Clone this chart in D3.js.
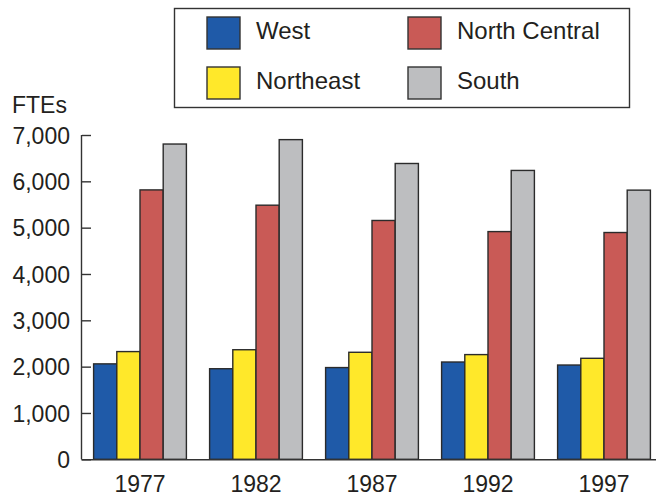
<!DOCTYPE html>
<html><head><meta charset="utf-8">
<script src="https://cdn.jsdelivr.net/npm/d3@7"></script>
<style>body{margin:0;background:#fff}svg{display:block}text{font-family:"Liberation Sans",Arial,Helvetica,sans-serif;fill:#231f20}</style>
</head><body>
<svg id="c" width="657" height="498"></svg>
<script>
const years = ["1977","1982","1987","1992","1997"];
const seriesNames = ["West","Northeast","North Central","South"];
const west = [2060,1955,1980,2100,2035];
const northeast = [2325,2365,2310,2260,2180];
const northCentral = [5815,5485,5155,4915,4895];
const south = [6805,6900,6385,6235,5810];
const yTicks = [0,1000,2000,3000,4000,5000,6000,7000];
const colors = ["#1f5aa8","#ffe82a","#c95a56","#bdbec0"];
const values = [west, northeast, northCentral, south];

const svg = d3.select("#c");
const x0 = d3.scaleBand().domain(years).range([82,662]).paddingInner(0.2).paddingOuter(0.1);
const x1 = d3.scaleBand().domain(seriesNames).range([0,x0.bandwidth()]);
const y = d3.scaleLinear().domain([0,7000]).range([459.3,135]);

// bars
years.forEach((yr,i)=>{
  const g = svg.append("g").attr("transform",`translate(${x0(yr)},0)`);
  seriesNames.forEach((s,j)=>{
    g.append("rect").attr("x",x1(s)).attr("y",y(values[j][i])).attr("width",x1.bandwidth()).attr("height",y(0)-y(values[j][i]))
      .attr("fill",colors[j]).attr("stroke","#2b2b2b").attr("stroke-width",1.4);
  });
});

// y axis
const yAxis = d3.axisLeft(y).tickValues(yTicks).tickSize(-9).tickPadding(12).tickFormat(d3.format(","));
const ya = svg.append("g").attr("transform","translate(82,0)").call(yAxis);
ya.select(".domain").attr("stroke","#333").attr("stroke-width",1.4).attr("d","M-0.5,135V459.3");
ya.selectAll(".tick line").attr("stroke","#333").attr("stroke-width",1.4);
ya.selectAll(".tick text").attr("font-size","23px").attr("x",-12).attr("dy","0.35em").style("fill","#231f20");

// x axis
const xAxis = d3.axisBottom(x0).tickSize(0).tickPadding(16);
const xa = svg.append("g").attr("transform",`translate(0,${y(0)})`).call(xAxis);
xa.select(".domain").attr("stroke","#333").attr("stroke-width",1.4).attr("d","M81.3,0.5H656");
xa.selectAll(".tick text").attr("font-size","23px").style("fill","#231f20");

svg.append("text").attr("x",12).attr("y",113).attr("font-size","23px").text("FTEs");

// legend
svg.append("rect").attr("x",174.5).attr("y",8.5).attr("width",455).attr("height",99).attr("fill","none").attr("stroke","#333").attr("stroke-width",1.4);
const legPos = [[207,17],[207,67],[408,17],[408,67]];
seriesNames.forEach((s,j)=>{
  const [lx,ly]=legPos[j];
  svg.append("rect").attr("x",lx).attr("y",ly).attr("width",33).attr("height",32).attr("fill",colors[j]).attr("stroke","#333").attr("stroke-width",1.4);
  svg.append("text").attr("x",lx+49).attr("y",ly+22).attr("font-size","24px").text(s);
});
</script>
</body></html>
